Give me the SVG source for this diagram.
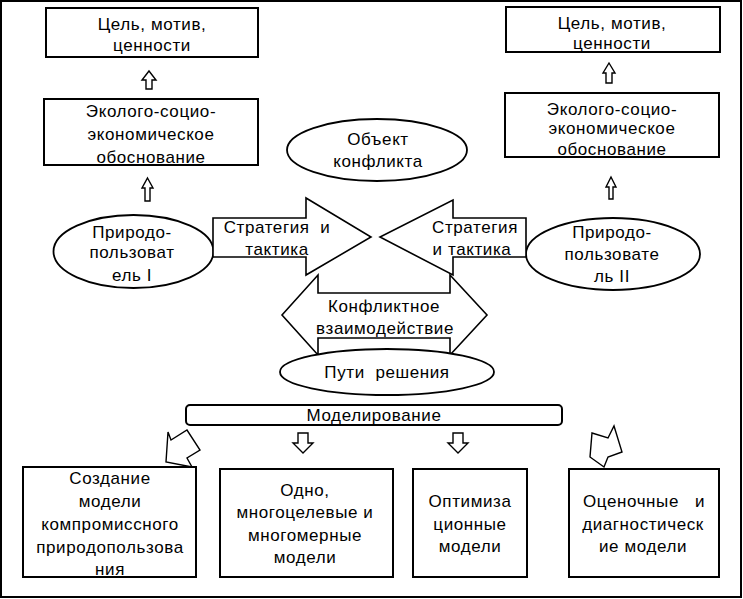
<svg xmlns="http://www.w3.org/2000/svg" width="743" height="599" viewBox="0 0 743 599">
<style>
text{font-family:"Liberation Sans",Arial,sans-serif;font-size:17px;letter-spacing:0.6px;fill:#000;text-anchor:middle}
.box{fill:#fff;stroke:#000;stroke-width:2}
.ell{fill:#fff;stroke:#000;stroke-width:1.8}
.big{fill:#fff;stroke:#000;stroke-width:1.6;stroke-linejoin:miter}
.arr{fill:#fff;stroke:#000;stroke-width:1.4;stroke-linejoin:miter}
</style>
<rect x="0" y="0" width="743" height="599" fill="#fff"/>
<rect x="1" y="1" width="740" height="596" fill="none" stroke="#000" stroke-width="2"/>

<g id="goal-left">
<rect class="box" x="46" y="8" width="212" height="49"/>
<text x="152" y="30">Цель, мотив,</text>
<text x="152" y="51">ценности</text>
</g>
<g id="eco-left">
<rect class="box" x="44" y="99" width="214" height="66"/>
<text x="151" y="117">Эколого-социо-</text>
<text x="151" y="140">экономическое</text>
<text x="151" y="163">обоснование</text>
</g>
<g id="goal-right">
<rect class="box" x="506" y="7" width="214" height="45"/>
<text x="612" y="29">Цель, мотив,</text>
<text x="612" y="49">ценности</text>
</g>
<g id="eco-right">
<rect class="box" x="505" y="93" width="214" height="64"/>
<text x="612" y="115">Эколого-социо-</text>
<text x="612" y="134">экономическое</text>
<text x="612" y="155">обоснование</text>
</g>
<g id="object">
<ellipse class="ell" cx="377" cy="150" rx="90" ry="31"/>
<text x="378" y="145">Объект</text>
<text x="378" y="167">конфликта</text>
</g>
<g id="user-left">
<ellipse class="ell" cx="133.5" cy="251.5" rx="80" ry="36.5"/>
<text x="132" y="238">Природо-</text>
<text x="132" y="258">пользоват</text>
<text x="132" y="281">ель I</text>
</g>
<g id="user-right">
<ellipse class="ell" cx="613" cy="254" rx="87" ry="36"/>
<text x="612" y="238">Природо-</text>
<text x="612" y="260">пользовате</text>
<text x="612" y="282">ль II</text>
</g>
<g id="strategy-left">
<polygon class="big" points="213,218 306,218 306,198 371,237 306,275 306,257 213,257"/>
<text x="277" y="233">Стратегия&#160; и</text>
<text x="277" y="255">тактика</text>
</g>
<g id="strategy-right">
<polygon class="big" points="526,218 453,218 453,200 380,237 453,275 453,257 526,257"/>
<text x="475" y="233">Стратегия</text>
<text x="472" y="255">и тактика</text>
</g>
<g id="interaction">
<polygon class="big" points="282,315 318,275 318,293 450,293 450,275 487,315 450,355 450,338 318,338 318,355"/>
<text x="384" y="312">Конфликтное</text>
<text x="385" y="334">взаимодействие</text>
</g>
<g id="solutions">
<ellipse class="ell" cx="387" cy="372" rx="107" ry="23"/>
<text x="387" y="378">Пути&#160; решения</text>
</g>
<g id="modeling">
<rect class="box" x="186" y="405" width="376" height="20" rx="4"/>
<text x="374" y="421">Моделирование</text>
</g>
<g id="model-compromise">
<rect class="box" x="23" y="467" width="173" height="110"/>
<text x="110" y="484">Создание</text>
<text x="110" y="507">модели</text>
<text x="110" y="530">компромиссного</text>
<text x="110" y="553">природопользова</text>
<text x="110" y="575">ния</text>
</g>
<g id="model-multi">
<rect class="box" x="220" y="469" width="173" height="108"/>
<text x="305" y="496">Одно,</text>
<text x="305" y="518">многоцелевые и</text>
<text x="305" y="541">многомерные</text>
<text x="305" y="563">модели</text>
</g>
<g id="model-optim">
<rect class="box" x="413" y="469" width="114" height="108"/>
<text x="470" y="507">Оптимиза</text>
<text x="470" y="530">ционные</text>
<text x="470" y="552">модели</text>
</g>
<g id="model-eval">
<rect class="box" x="569" y="469" width="150" height="108"/>
<text x="644" y="507">Оценочные&#160;&#160; и</text>
<text x="643" y="530">диагностическ</text>
<text x="643" y="552">ие модели</text>
</g>

<g id="connectors">
<path class="arr" d="M149,71 L156,80 L152,80 L152,89 L146,89 L146,80 L142,80 Z"/>
<path class="arr" d="M147.5,178 L153,188 L150,188 L150,201 L145,201 L145,188 L142,188 Z"/>
<path class="arr" d="M609,63 L615,73 L612,73 L612,83 L606,83 L606,73 L603,73 Z"/>
<path class="arr" d="M611,177 L616,187 L613,187 L613,199 L609,199 L609,187 L606,187 Z"/>
<path class="arr" d="M298,433 L308,433 L308,443 L313,443 L303,453 L293,443 L298,443 Z"/>
<path class="arr" d="M453,433 L463,433 L463,443 L468,443 L458,453 L448,443 L453,443 Z"/>
<polygon class="arr" points="168,432 171,440 187,430 200,450 187,458 192,467 166,462"/>
<polygon class="arr" points="592,433 608,438 614,426 622,452 608,457 604,467 590,457"/>
</g>
</svg>
